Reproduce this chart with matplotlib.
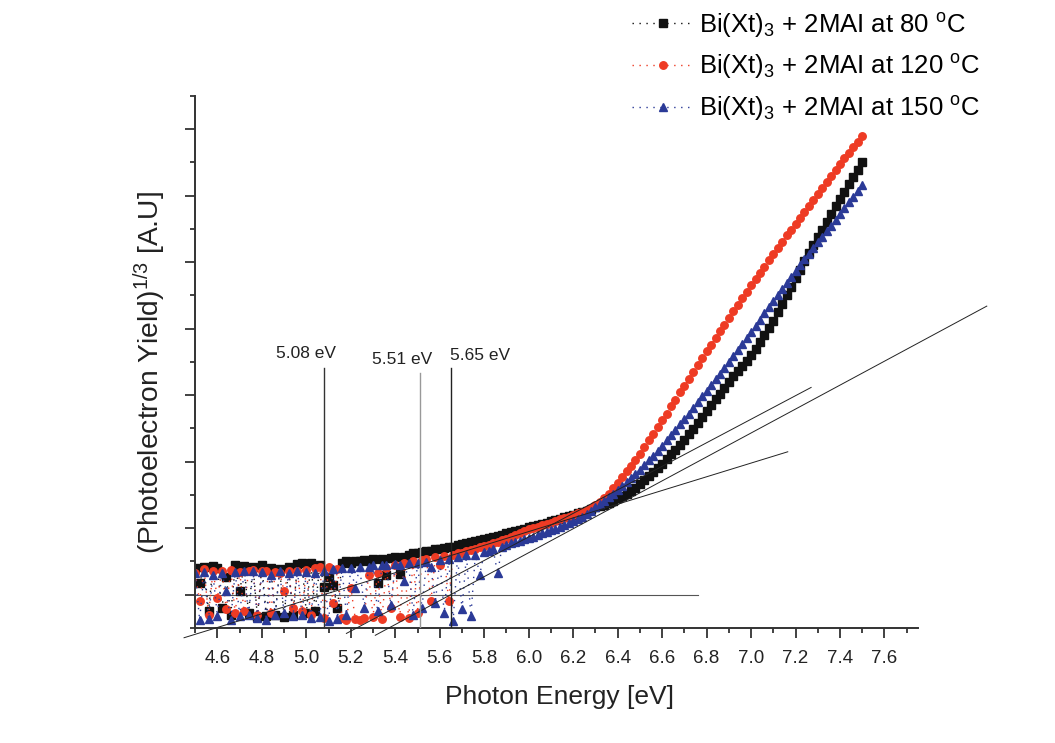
import numpy as np
import matplotlib
matplotlib.use('Agg')
import matplotlib.pyplot as plt
from matplotlib import font_manager
from matplotlib.ticker import MultipleLocator, FormatStrFormatter, NullFormatter

# photon energy grid (eV), 0.02 eV steps from 4.50 to 7.50
energy = np.round(4.50 + 0.02 * np.arange(151), 2)

# (photoelectron yield)^(1/3), arbitrary units
yield_80 = [
    0.40, 0.17, 0.42, -0.25, 0.43, 0.40, -0.20, 0.26, -0.30, 0.44,
    0.05, 0.43, -0.28, 0.42, -0.33, 0.44, -0.32, 0.40, -0.30, 0.38,
    -0.33, 0.41, -0.30, 0.46, 0.47, -0.28, 0.48, -0.25, 0.45, 0.12,
    0.26, 0.14, -0.20, 0.48, 0.50, 0.47, 0.50, 0.51, 0.52, 0.50,
    0.53, 0.18, 0.54, 0.30, 0.55, 0.56, 0.31, 0.57, 0.60, 0.62,
    0.63, 0.64, 0.65, 0.66, 0.68, 0.69, 0.70, 0.71, 0.72, 0.74,
    0.76, 0.77, 0.79, 0.80, 0.82, 0.84, 0.85, 0.87, 0.88, 0.90,
    0.92, 0.94, 0.96, 0.97, 0.99, 1.01, 1.03, 1.04, 1.06, 1.08,
    1.10, 1.12, 1.14, 1.16, 1.18, 1.20, 1.22, 1.24, 1.26, 1.29,
    1.31, 1.33, 1.35, 1.38, 1.41, 1.45, 1.48, 1.52, 1.56, 1.61,
    1.66, 1.72, 1.78, 1.84, 1.90, 1.97, 2.04, 2.11, 2.18, 2.25,
    2.33, 2.41, 2.49, 2.58, 2.67, 2.76, 2.85, 2.94, 3.02, 3.11,
    3.20, 3.28, 3.36, 3.44, 3.52, 3.60, 3.70, 3.80, 3.91, 4.01,
    4.12, 4.25, 4.37, 4.50, 4.63, 4.76, 4.88, 5.01, 5.13, 5.26,
    5.38, 5.49, 5.61, 5.72, 5.84, 5.95, 6.06, 6.17, 6.28, 6.39,
    6.50,
]
yield_120 = [
    0.33, -0.10, 0.38, -0.30, 0.35, -0.05, 0.36, -0.22, 0.37, -0.28,
    0.34, -0.25, 0.36, 0.37, -0.30, 0.36, 0.35, -0.27, 0.34, 0.33,
    0.05, 0.36, -0.20, 0.35, -0.25, 0.37, -0.30, 0.40, 0.42, -0.35,
    0.41, -0.12, 0.38, -0.35, -0.38, 0.10, -0.36, -0.38, -0.35, 0.30,
    -0.33, 0.33, -0.36, 0.40, -0.20, 0.45, -0.34, 0.47, -0.35, 0.50,
    -0.27, 0.52, 0.54, -0.10, 0.56, 0.44, 0.58, -0.09, 0.60, 0.62,
    0.63, 0.65, 0.67, 0.69, 0.71, 0.73, 0.75, 0.77, 0.79, 0.82,
    0.84, 0.87, 0.89, 0.92, 0.95, 0.98, 1.00, 1.02, 1.04, 1.06,
    1.08, 1.10, 1.13, 1.15, 1.17, 1.19, 1.22, 1.24, 1.27, 1.30,
    1.34, 1.39, 1.45, 1.52, 1.60, 1.68, 1.77, 1.86, 1.94, 2.03,
    2.12, 2.22, 2.32, 2.42, 2.52, 2.62, 2.72, 2.83, 2.93, 3.04,
    3.14, 3.24, 3.35, 3.45, 3.56, 3.66, 3.76, 3.86, 3.96, 4.06,
    4.16, 4.26, 4.36, 4.46, 4.55, 4.65, 4.74, 4.84, 4.93, 5.03,
    5.12, 5.21, 5.30, 5.40, 5.49, 5.58, 5.67, 5.76, 5.85, 5.94,
    6.03, 6.12, 6.21, 6.29, 6.38, 6.47, 6.56, 6.64, 6.73, 6.81,
    6.90,
]
yield_150 = [
    0.32, -0.38, 0.34, -0.36, 0.30, -0.32, 0.33, 0.05, -0.38, 0.34,
    -0.32, 0.36, -0.30, 0.35, -0.35, 0.34, -0.38, 0.30, -0.30, 0.35,
    -0.28, 0.33, -0.32, 0.36, -0.30, 0.34, -0.35, 0.32, -0.34, 0.36,
    -0.40, 0.38, -0.36, 0.40, -0.30, 0.40, 0.10, 0.42, -0.20, 0.42,
    0.44, -0.25, 0.45, 0.44, -0.15, 0.46, 0.45, 0.20, 0.47, -0.30,
    0.48, -0.20, 0.49, 0.41, -0.12, 0.52, -0.28, 0.54, -0.39, 0.57,
    -0.22, 0.59, -0.32, 0.60, 0.30, 0.64, 0.66, 0.68, 0.32, 0.72,
    0.75, 0.77, 0.79, 0.81, 0.83, 0.85, 0.87, 0.89, 0.92, 0.94,
    0.97, 0.99, 1.02, 1.05, 1.08, 1.11, 1.14, 1.17, 1.21, 1.26,
    1.31, 1.36, 1.41, 1.46, 1.52, 1.58, 1.64, 1.70, 1.76, 1.82,
    1.88, 1.95, 2.02, 2.09, 2.16, 2.24, 2.32, 2.40, 2.48, 2.56,
    2.64, 2.72, 2.81, 2.89, 2.98, 3.06, 3.15, 3.24, 3.32, 3.41,
    3.50, 3.59, 3.68, 3.77, 3.86, 3.95, 4.04, 4.13, 4.23, 4.32,
    4.41, 4.50, 4.59, 4.68, 4.77, 4.86, 4.95, 5.04, 5.12, 5.21,
    5.30, 5.38, 5.47, 5.55, 5.64, 5.72, 5.81, 5.90, 5.98, 6.07,
    6.16,
]

series_labels = [
    r'Bi(Xt)$_\mathregular{3}$ + 2MAI at 80 $^\mathregular{o}$C',
    r'Bi(Xt)$_\mathregular{3}$ + 2MAI at 120 $^\mathregular{o}$C',
    r'Bi(Xt)$_\mathregular{3}$ + 2MAI at 150 $^\mathregular{o}$C',
]

# ionisation onsets from the linear fits: onset (eV), slope, start / end energy of drawn fit
onsets = [5.08, 5.51, 5.65]
fit_slopes = [1.03, 1.77, 1.80]
fit_start = [4.45, 5.18, 5.31]
fit_end = [7.165, 7.27, 8.06]
onset_labels = ['5.08 eV', '5.51 eV', '5.65 eV']

names = {f.name for f in font_manager.fontManager.ttflist}
narrow = 'Liberation Sans Narrow' if 'Liberation Sans Narrow' in names else 'Liberation Sans'
plt.rcParams['font.family'] = ['Liberation Sans', 'DejaVu Sans']
plt.rcParams['mathtext.default'] = 'regular'

fig = plt.figure(figsize=(10.55, 7.43), dpi=100)
ax = fig.add_axes([0.185, 0.155, 0.685, 0.716])

dots = (0, (1, 4))
styles = [('#111111', 's', 5.2), ('#ee3b24', 'o', 5.4), ('#2b3a97', '^', 6.3)]
for ys, lab, (col, mk, ms) in zip([yield_80, yield_120, yield_150], series_labels, styles):
    ax.plot(energy, ys, linestyle=dots, lw=1.0, color=col, marker=mk, ms=ms,
            mec=col, mfc=col, label=lab)

# baseline and fitted tangents
ax.plot([4.5, 6.76], [0, 0], color='#555555', lw=0.8, zorder=1)
for e0, k, xa, xb in zip(onsets, fit_slopes, fit_start, fit_end):
    ax.plot([xa, xb], [k * (xa - e0), k * (xb - e0)], color='#222222', lw=0.7,
            clip_on=False, zorder=4)

# onset markers
vtops = [3.40, 3.33, 3.40]
vcols = ['#333333', '#999999', '#222222']
label_pos = [(5.00, 3.63), (5.43, 3.54), (5.78, 3.60)]
for e0, top, col, txt, (tx, ty) in zip(onsets, vtops, vcols, onset_labels, label_pos):
    ax.plot([e0, e0], [-0.5, top], color=col, lw=1.0, zorder=4)
    ax.text(tx, ty, txt, ha='center', va='center', fontsize=12.5, color='#222222')

ax.set_xlim(4.5, 7.75)
ax.set_ylim(-0.5, 7.5)
ax.xaxis.set_major_locator(MultipleLocator(0.2))
ax.xaxis.set_minor_locator(MultipleLocator(0.1))
ax.xaxis.set_major_formatter(FormatStrFormatter('%.1f'))
ax.yaxis.set_major_locator(MultipleLocator(1))
ax.yaxis.set_minor_locator(MultipleLocator(0.5))
ax.yaxis.set_major_formatter(NullFormatter())
for s in ['top', 'right']:
    ax.spines[s].set_visible(False)
for s in ['left', 'bottom']:
    ax.spines[s].set_linewidth(1.4)
    ax.spines[s].set_color('#333333')
ax.tick_params(which='major', direction='out', length=7, width=1.3, colors='#333333', pad=9)
ax.tick_params(which='minor', direction='out', length=3.5, width=1.3, colors='#333333')
for t in ax.get_xticklabels():
    t.set_fontfamily(narrow)
    t.set_fontsize(13.5)
    t.set_color('#222222')

fig.text(0.530, 0.062, 'Photon Energy [eV]', fontsize=19, ha='center', va='center',
         color='#222222')
fig.text(0.142, 0.499, r'(Photoelectron Yield)$^\mathregular{1/3}$ [A.U]', fontsize=20.3,
         rotation=90, ha='center', va='center', color='#222222')

leg = fig.legend(loc='upper left', bbox_to_anchor=(0.592, 0.996), frameon=False,
                 fontsize=18.5, numpoints=1, handlelength=2.4, handletextpad=0.2,
                 labelspacing=0.49, borderaxespad=0.0, borderpad=0.3)

fig.savefig('out.png', dpi=100, facecolor='white')
